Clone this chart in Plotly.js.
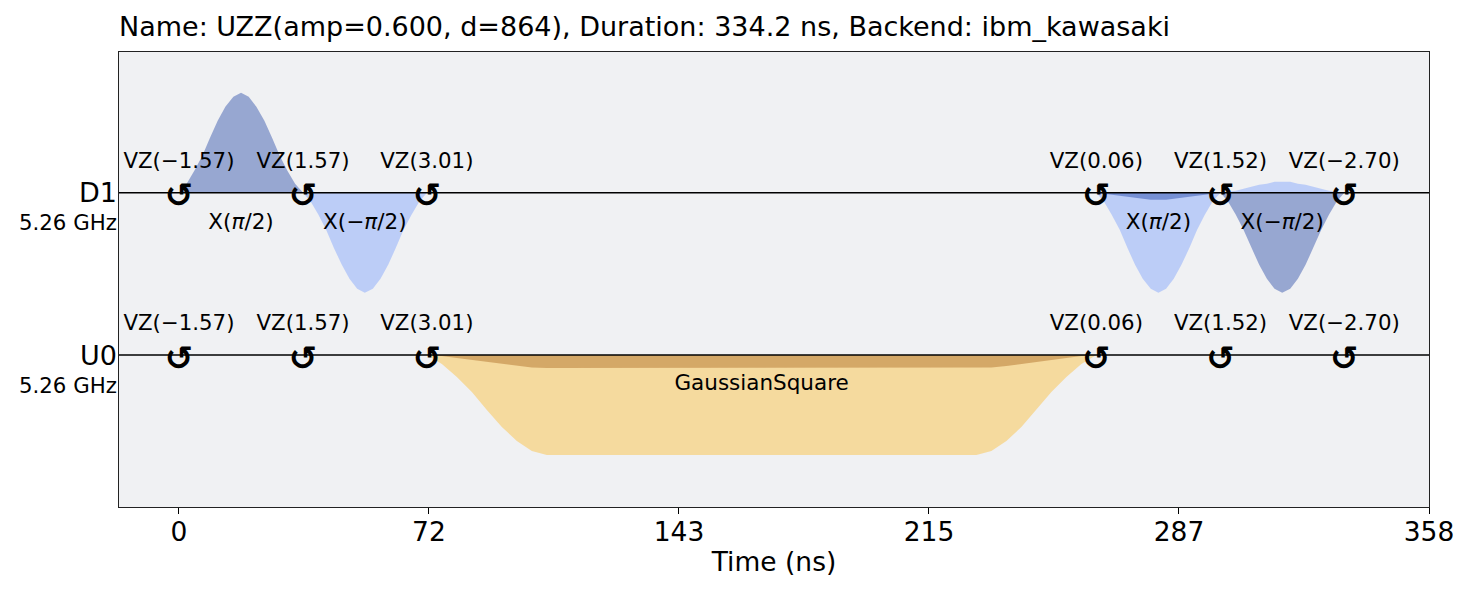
<!DOCTYPE html>
<html>
<head>
<meta charset="utf-8">
<script src="https://cdn.plot.ly/plotly-3.0.1.min.js"></script>
<style>
  html, body { margin: 0; padding: 0; background: #ffffff; }
  #schedule { width: 1472px; height: 591px; }
</style>
</head>
<body>
<div id="schedule"></div>
<script>
// pulse schedule, times in ns, amplitudes normalised per channel
var titleText = 'Name: UZZ(amp=0.600, d=864), Duration: 334.2 ns, Backend: ibm_kawasaki';

var tickVals = [0, 71.7, 143.4, 215.1, 286.8, 358.5];
var tickText = ['0', '72', '143', '215', '287', '358'];

var channelNames = ['D1', 'U0'];
var channelFreqs = ['5.26 GHz', '5.26 GHz'];

// D1 : four sx pulses
var sx1Time = [0, 2.2, 4.4, 6.7, 8.9, 11.1, 13.3, 15.6, 17.8, 20.0, 22.2, 24.5, 26.7, 28.9, 31.1, 33.3, 35.6];
var sx1Imag = [0, 0.09, 0.22, 0.37, 0.55, 0.72, 0.86, 0.96, 1.00, 0.96, 0.86, 0.72, 0.55, 0.37, 0.22, 0.09, 0];

var sx2Time = [35.6, 37.8, 40.0, 42.2, 44.4, 46.7, 48.9, 51.1, 53.3, 55.6, 57.8, 60.0, 62.2, 64.4, 66.7, 68.9, 71.1];
var sx2Real = [0, -0.09, -0.22, -0.37, -0.55, -0.72, -0.86, -0.96, -1.00, -0.96, -0.86, -0.72, -0.55, -0.37, -0.22, -0.09, 0];

var sx3Time = [263.1, 265.3, 267.5, 269.8, 272.0, 274.2, 276.4, 278.7, 280.9, 283.1, 285.3, 287.5, 289.8, 292.0, 294.2, 296.4, 298.7];
var sx3Real = [0, -0.09, -0.22, -0.37, -0.55, -0.72, -0.86, -0.96, -1.00, -0.96, -0.86, -0.72, -0.55, -0.37, -0.22, -0.09, 0];
var sx3Imag = [0, -0.01, -0.02, -0.03, -0.04, -0.05, -0.06, -0.07, -0.07, -0.07, -0.06, -0.05, -0.04, -0.03, -0.02, -0.01, 0];

var sx4Time = [298.7, 300.9, 303.1, 305.3, 307.6, 309.8, 312.0, 314.2, 316.4, 318.7, 320.9, 323.1, 325.3, 327.6, 329.8, 332.0, 334.2];
var sx4Real = [0, 0.01, 0.02, 0.04, 0.06, 0.08, 0.09, 0.11, 0.11, 0.11, 0.09, 0.08, 0.06, 0.04, 0.02, 0.01, 0];
var sx4Imag = [0, -0.09, -0.22, -0.37, -0.55, -0.72, -0.86, -0.96, -1.00, -0.96, -0.86, -0.72, -0.55, -0.37, -0.22, -0.09, 0];

// U0 : GaussianSquare
var gsTime = [71.1, 75.4, 79.7, 84.0, 88.3, 92.6, 96.9, 101.2, 105.5, 228.7, 233.0, 237.3, 241.6, 245.9, 250.2, 254.5, 258.8, 263.1];
var gsReal = [0, -0.09, -0.22, -0.37, -0.55, -0.72, -0.86, -0.96, -1.00, -1.00, -0.96, -0.86, -0.72, -0.55, -0.37, -0.22, -0.09, 0];
var gsImag = [0, -0.01, -0.03, -0.05, -0.07, -0.09, -0.11, -0.125, -0.13, -0.13, -0.125, -0.11, -0.09, -0.07, -0.05, -0.03, -0.01, 0];

// phase shifts (same on both channels)
var vzTime = [0, 35.6, 71.1, 263.1, 298.7, 334.2];
var vzText = ['VZ(\u22121.57)', 'VZ(1.57)', 'VZ(3.01)', 'VZ(0.06)', 'VZ(1.52)', 'VZ(\u22122.70)'];

var d1PulseTime = [17.8, 53.3, 280.9, 316.4];
var d1PulseText = ['X(<i>\u03c0</i>/2)', 'X(\u2212<i>\u03c0</i>/2)', 'X(<i>\u03c0</i>/2)', 'X(\u2212<i>\u03c0</i>/2)'];
var u0PulseTime = [167.1];
var u0PulseText = ['GaussianSquare'];

var FONT = 'DejaVu Sans, Liberation Sans, sans-serif';
var D_RE = 'rgba(100,143,255,0.37)', D_IM = 'rgba(0,41,153,0.37)';
var U_RE = 'rgba(255,176,0,0.35)', U_IM = 'rgba(153,74,0,0.35)';

function wave(x, y, axis, color) {
  return {x: x, y: y, yaxis: axis, type: 'scatter', mode: 'lines', fill: 'tozeroy',
          fillcolor: color, line: {width: 0, color: color}, hoverinfo: 'skip', showlegend: false};
}

function texts(x, labels, axis, dy, size) {
  return {x: x, y: x.map(function () { return dy; }), yaxis: axis, type: 'scatter', mode: 'text',
          text: labels, textposition: 'middle center', cliponaxis: false,
          textfont: {family: FONT, size: size, color: '#000'}, hoverinfo: 'skip', showlegend: false};
}

var data = [
  wave(sx1Time, sx1Imag, 'y', D_IM),
  wave(sx2Time, sx2Real, 'y', D_RE),
  wave(sx3Time, sx3Real, 'y', D_RE),
  wave(sx3Time, sx3Imag, 'y', D_IM),
  wave(sx4Time, sx4Real, 'y', D_RE),
  wave(sx4Time, sx4Imag, 'y', D_IM),
  wave(gsTime, gsReal, 'y2', U_RE),
  wave(gsTime, gsImag, 'y2', U_IM)
];

var axes = ['y', 'y2'];
axes.forEach(function (ax) {
  data.push(texts(vzTime, vzText, ax, 0.30, 21.3));
  data.push(texts(vzTime, vzTime.map(function () { return '<b>\u21ba</b>'; }), ax, -0.06, 34));
});
data.push(texts(d1PulseTime, d1PulseText, 'y', -0.31, 21.5));
data.push(texts(u0PulseTime, u0PulseText, 'y2', -0.30, 21.5));

var annotations = [];
axes.forEach(function (ax, i) {
  annotations.push({xref: 'paper', x: 0, xanchor: 'right', xshift: 0, yref: ax, y: 0, yanchor: 'middle',
    text: channelNames[i], showarrow: false, font: {family: FONT, size: 27, color: '#000'}});
  annotations.push({xref: 'paper', x: 0, xanchor: 'right', xshift: 0, yref: ax, y: -0.30, yanchor: 'middle',
    text: channelFreqs[i], showarrow: false, font: {family: FONT, size: 21.3, color: '#000'}});
});

var shapes = axes.map(function (ax) {
  return {type: 'line', xref: 'paper', x0: 0, x1: 1, yref: ax, y0: 0, y1: 0,
          line: {color: '#000', width: 1.6}, layer: 'above'};
});

var layout = {
  width: 1472, height: 591,
  margin: {l: 119, r: 43, t: 52, b: 84},
  paper_bgcolor: '#ffffff',
  plot_bgcolor: '#f0f1f3',
  font: {family: FONT, color: '#000'},
  title: {text: titleText, font: {family: FONT, size: 27, color: '#000'},
          xref: 'paper', x: 0, xanchor: 'left', yref: 'container', y: 0.955, yanchor: 'middle'},
  xaxis: {
    range: [-17.2, 358.5], tickmode: 'array', tickvals: tickVals, ticktext: tickText,
    ticks: 'outside', ticklen: 6, tickwidth: 1, tickcolor: '#000', ticklabelstandoff: -5,
    tickfont: {family: FONT, size: 26.5, color: '#000'},
    showgrid: false, zeroline: false, showline: true, mirror: true, linecolor: '#222', linewidth: 1.2,
    title: {text: 'Time (ns)', font: {family: FONT, size: 26.5, color: '#000'}, standoff: 6}
  },
  yaxis: {
    range: [-3.142, 1.408], showticklabels: false, ticks: '', showgrid: false, zeroline: false,
    showline: true, mirror: true, linecolor: '#222', linewidth: 1.2, fixedrange: true
  },
  yaxis2: {
    range: [-1.52, 3.03], overlaying: 'y', showticklabels: false, ticks: '', showgrid: false,
    zeroline: false, showline: false, fixedrange: true
  },
  shapes: shapes,
  annotations: annotations,
  showlegend: false
};

Plotly.newPlot('schedule', data, layout, {displayModeBar: false, staticPlot: true});
</script>
</body>
</html>
